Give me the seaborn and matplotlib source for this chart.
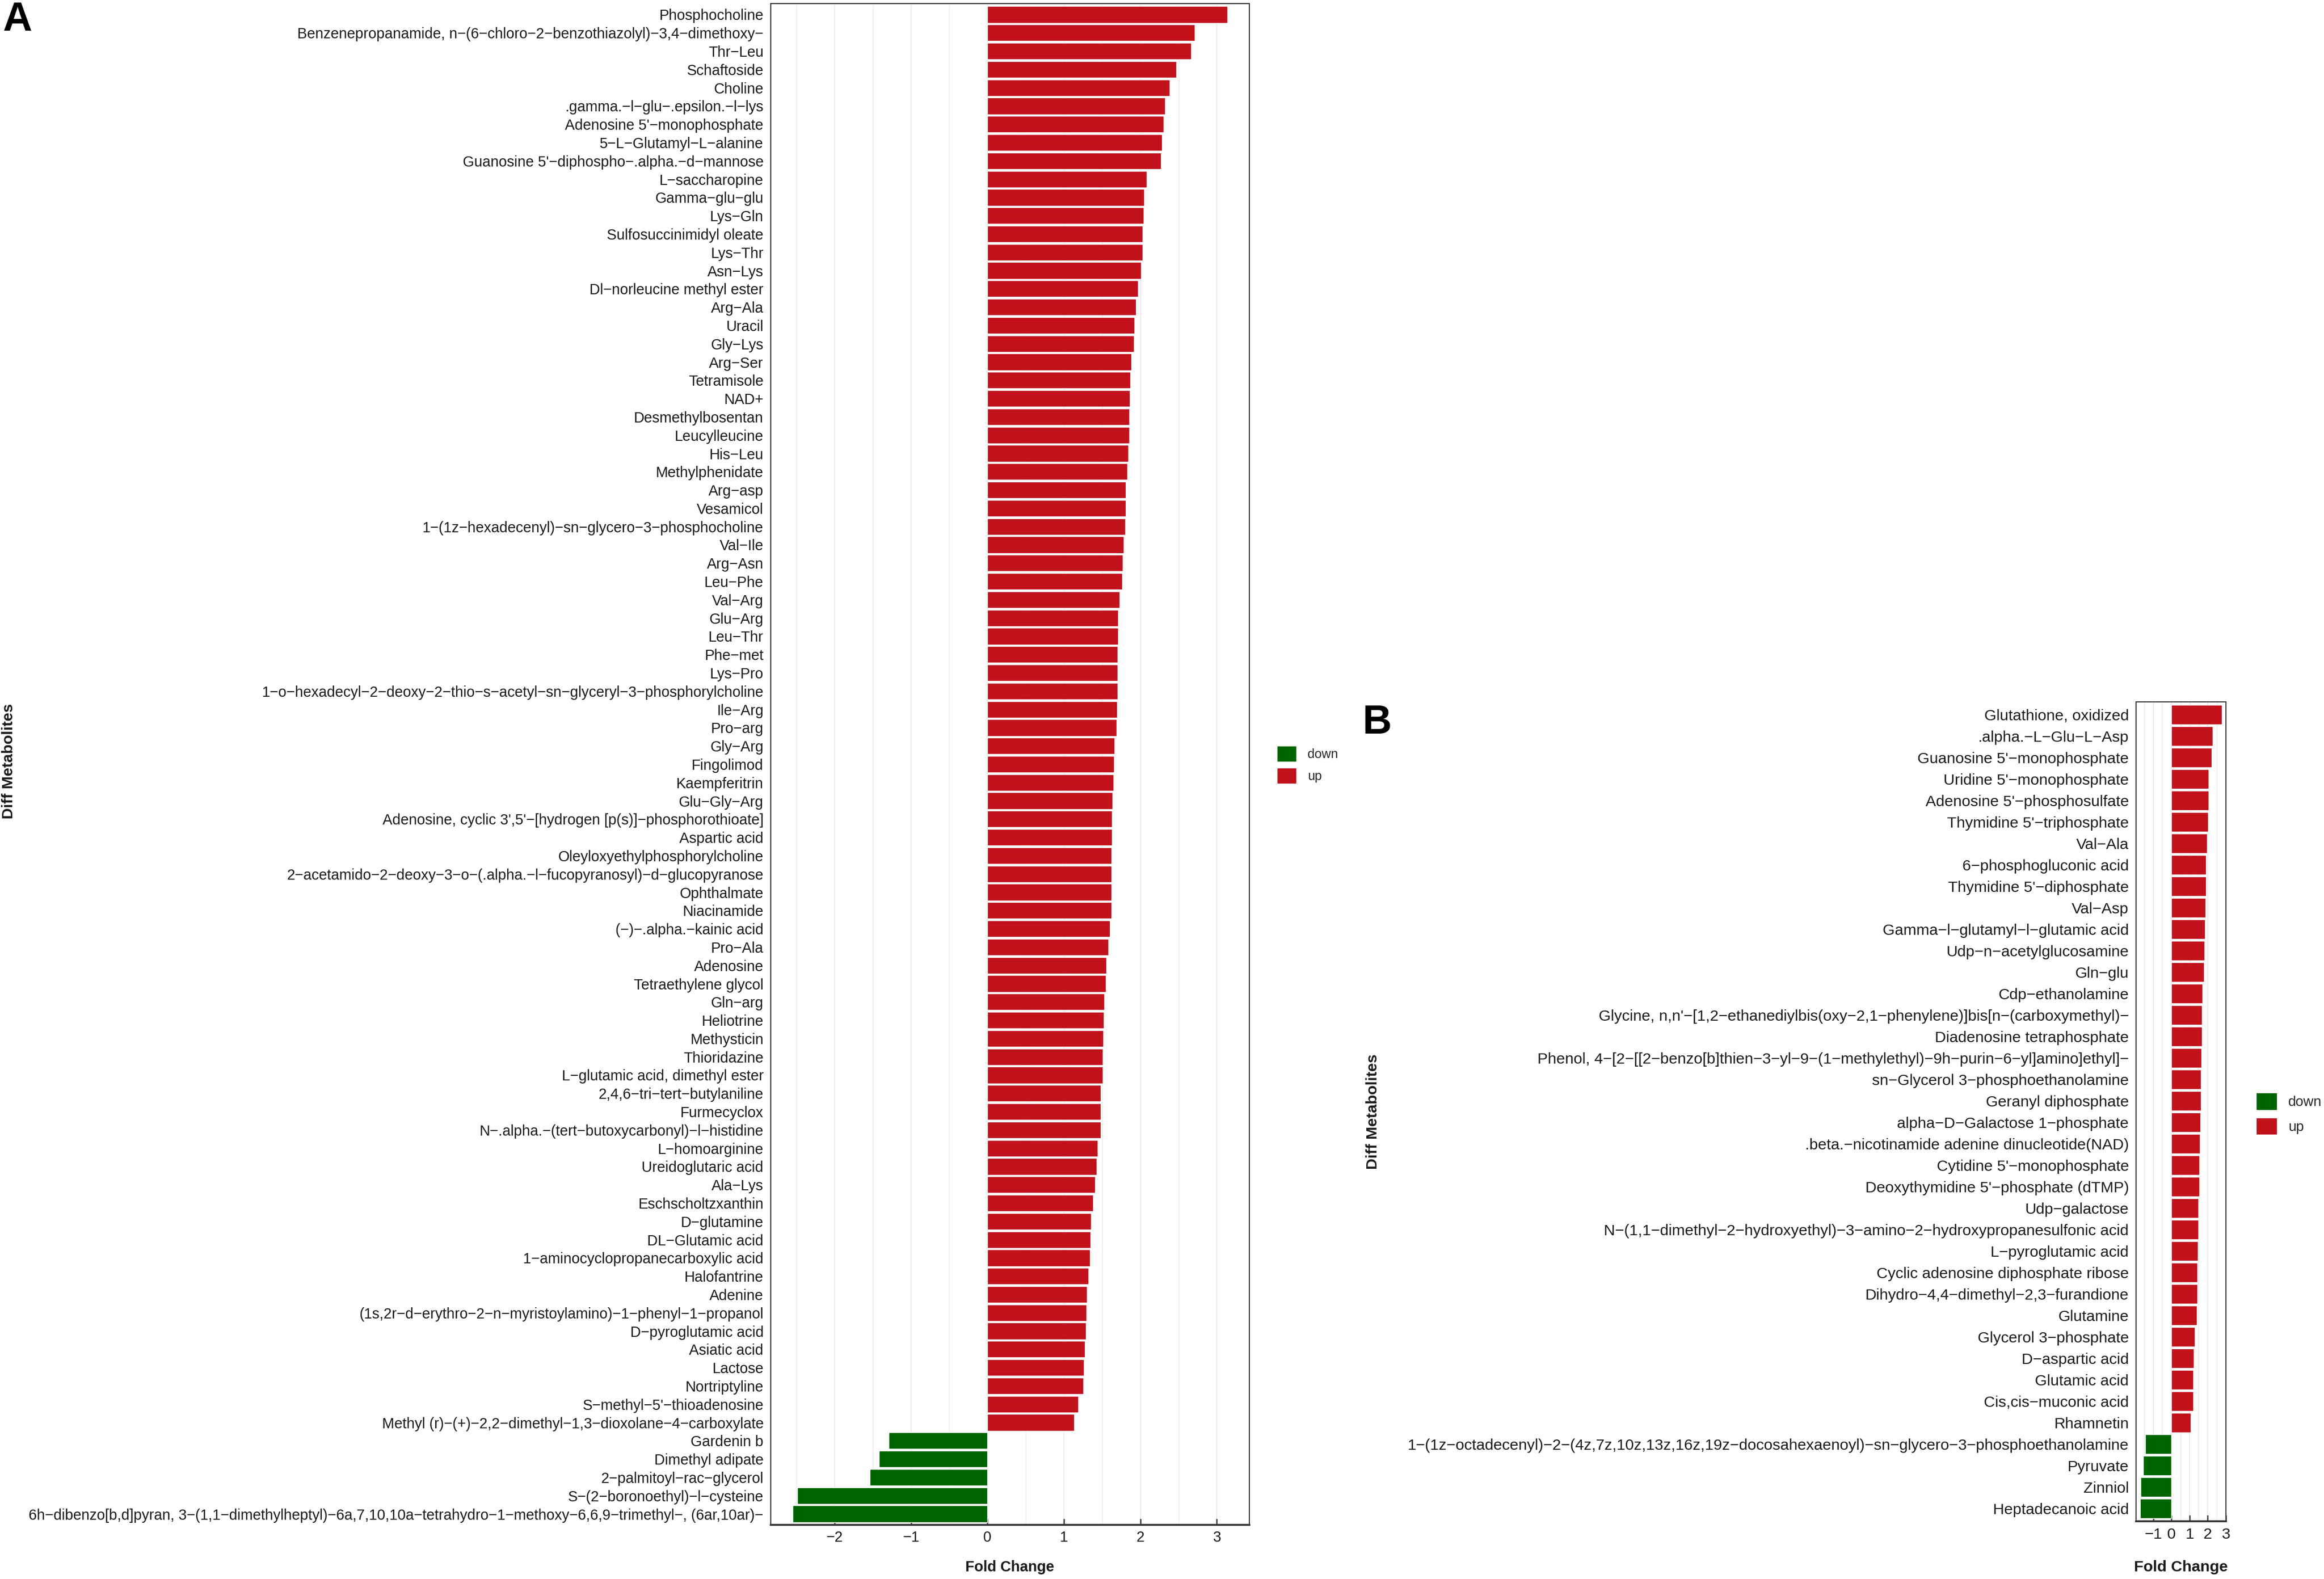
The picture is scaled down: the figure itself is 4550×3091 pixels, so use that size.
import numpy as np
import pandas as pd
import matplotlib
matplotlib.use('Agg')
import matplotlib.pyplot as plt
from matplotlib.ticker import MultipleLocator
import seaborn as sns

# Panel A: differential metabolites (top to bottom)
a_names = [
    "Phosphocholine",
    "Benzenepropanamide, n−(6−chloro−2−benzothiazolyl)−3,4−dimethoxy−",
    "Thr−Leu",
    "Schaftoside",
    "Choline",
    ".gamma.−l−glu−.epsilon.−l−lys",
    "Adenosine 5'−monophosphate",
    "5−L−Glutamyl−L−alanine",
    "Guanosine 5'−diphospho−.alpha.−d−mannose",
    "L−saccharopine",
    "Gamma−glu−glu",
    "Lys−Gln",
    "Sulfosuccinimidyl oleate",
    "Lys−Thr",
    "Asn−Lys",
    "Dl−norleucine methyl ester",
    "Arg−Ala",
    "Uracil",
    "Gly−Lys",
    "Arg−Ser",
    "Tetramisole",
    "NAD+",
    "Desmethylbosentan",
    "Leucylleucine",
    "His−Leu",
    "Methylphenidate",
    "Arg−asp",
    "Vesamicol",
    "1−(1z−hexadecenyl)−sn−glycero−3−phosphocholine",
    "Val−Ile",
    "Arg−Asn",
    "Leu−Phe",
    "Val−Arg",
    "Glu−Arg",
    "Leu−Thr",
    "Phe−met",
    "Lys−Pro",
    "1−o−hexadecyl−2−deoxy−2−thio−s−acetyl−sn−glyceryl−3−phosphorylcholine",
    "Ile−Arg",
    "Pro−arg",
    "Gly−Arg",
    "Fingolimod",
    "Kaempferitrin",
    "Glu−Gly−Arg",
    "Adenosine, cyclic 3',5'−[hydrogen [p(s)]−phosphorothioate]",
    "Aspartic acid",
    "Oleyloxyethylphosphorylcholine",
    "2−acetamido−2−deoxy−3−o−(.alpha.−l−fucopyranosyl)−d−glucopyranose",
    "Ophthalmate",
    "Niacinamide",
    "(−)−.alpha.−kainic acid",
    "Pro−Ala",
    "Adenosine",
    "Tetraethylene glycol",
    "Gln−arg",
    "Heliotrine",
    "Methysticin",
    "Thioridazine",
    "L−glutamic acid, dimethyl ester",
    "2,4,6−tri−tert−butylaniline",
    "Furmecyclox",
    "N−.alpha.−(tert−butoxycarbonyl)−l−histidine",
    "L−homoarginine",
    "Ureidoglutaric acid",
    "Ala−Lys",
    "Eschscholtzxanthin",
    "D−glutamine",
    "DL−Glutamic acid",
    "1−aminocyclopropanecarboxylic acid",
    "Halofantrine",
    "Adenine",
    "(1s,2r−d−erythro−2−n−myristoylamino)−1−phenyl−1−propanol",
    "D−pyroglutamic acid",
    "Asiatic acid",
    "Lactose",
    "Nortriptyline",
    "S−methyl−5'−thioadenosine",
    "Methyl (r)−(+)−2,2−dimethyl−1,3−dioxolane−4−carboxylate",
    "Gardenin b",
    "Dimethyl adipate",
    "2−palmitoyl−rac−glycerol",
    "S−(2−boronoethyl)−l−cysteine",
    "6h−dibenzo[b,d]pyran, 3−(1,1−dimethylheptyl)−6a,7,10,10a−tetrahydro−1−methoxy−6,6,9−trimethyl−, (6ar,10ar)−",
]
a_fc = [
    3.14, 2.71, 2.66, 2.47, 2.38, 2.32, 2.30, 2.28, 2.27, 2.08,
    2.05, 2.04, 2.03, 2.03, 2.01, 1.97, 1.94, 1.92, 1.915, 1.88,
    1.865, 1.86, 1.855, 1.853, 1.84, 1.827, 1.81, 1.81, 1.804, 1.78,
    1.767, 1.762, 1.731, 1.709, 1.707, 1.704, 1.702, 1.698, 1.693, 1.687,
    1.66, 1.656, 1.645, 1.636, 1.629, 1.628, 1.624, 1.623, 1.622, 1.618,
    1.60, 1.58, 1.551, 1.549, 1.527, 1.518, 1.513, 1.51, 1.507, 1.482,
    1.481, 1.48, 1.442, 1.424, 1.407, 1.38, 1.356, 1.349, 1.34, 1.32,
    1.30, 1.293, 1.284, 1.276, 1.26, 1.256, 1.187, 1.133,
    -1.29, -1.42, -1.54, -2.49, -2.55,
]

# Panel B
b_names = [
    "Glutathione, oxidized",
    ".alpha.−L−Glu−L−Asp",
    "Guanosine 5'−monophosphate",
    "Uridine 5'−monophosphate",
    "Adenosine 5'−phosphosulfate",
    "Thymidine 5'−triphosphate",
    "Val−Ala",
    "6−phosphogluconic acid",
    "Thymidine 5'−diphosphate",
    "Val−Asp",
    "Gamma−l−glutamyl−l−glutamic acid",
    "Udp−n−acetylglucosamine",
    "Gln−glu",
    "Cdp−ethanolamine",
    "Glycine, n,n'−[1,2−ethanediylbis(oxy−2,1−phenylene)]bis[n−(carboxymethyl)−",
    "Diadenosine tetraphosphate",
    "Phenol, 4−[2−[[2−benzo[b]thien−3−yl−9−(1−methylethyl)−9h−purin−6−yl]amino]ethyl]−",
    "sn−Glycerol 3−phosphoethanolamine",
    "Geranyl diphosphate",
    "alpha−D−Galactose 1−phosphate",
    ".beta.−nicotinamide adenine dinucleotide(NAD)",
    "Cytidine 5'−monophosphate",
    "Deoxythymidine 5'−phosphate (dTMP)",
    "Udp−galactose",
    "N−(1,1−dimethyl−2−hydroxyethyl)−3−amino−2−hydroxypropanesulfonic acid",
    "L−pyroglutamic acid",
    "Cyclic adenosine diphosphate ribose",
    "Dihydro−4,4−dimethyl−2,3−furandione",
    "Glutamine",
    "Glycerol 3−phosphate",
    "D−aspartic acid",
    "Glutamic acid",
    "Cis,cis−muconic acid",
    "Rhamnetin",
    "1−(1z−octadecenyl)−2−(4z,7z,10z,13z,16z,19z−docosahexaenoyl)−sn−glycero−3−phosphoethanolamine",
    "Pyruvate",
    "Zinniol",
    "Heptadecanoic acid",
]
b_fc = [
    2.78, 2.27, 2.21, 2.06, 2.05, 2.01, 1.96, 1.92, 1.91, 1.87,
    1.84, 1.82, 1.80, 1.72, 1.69, 1.67, 1.66, 1.64, 1.62, 1.60,
    1.58, 1.55, 1.54, 1.50, 1.49, 1.46, 1.44, 1.42, 1.40, 1.30,
    1.24, 1.20, 1.195, 1.06,
    -1.45, -1.55, -1.69, -1.72,
]

RED = '#C1121C'
GREEN = '#006400'
GRID = '#EBEBEB'
FRAME = '#333333'
TXT = '#1a1a1a'

sns.set_theme(style='white')
plt.rcParams['font.family'] = ['Liberation Sans', 'DejaVu Sans']
plt.rcParams['axes.unicode_minus'] = True

W, H, DPI = 4550, 3091, 300
fig = plt.figure(figsize=(W / DPI, H / DPI), dpi=DPI)


def box(x0, y0, x1, y1):
    # pixel box (top-left origin) -> figure fraction rect
    return [x0 / W, 1 - y1 / H, (x1 - x0) / W, (y1 - y0) / H]


def draw_panel(ax, names, fc, tick_fs):
    df = pd.DataFrame({'metabolite': names, 'fc': fc})
    df['dir'] = np.where(df['fc'] < 0, 'down', 'up')
    sns.barplot(data=df, x='fc', y='metabolite', hue='dir',
                hue_order=['down', 'up'], palette={'down': GREEN, 'up': RED},
                saturation=1, dodge=False, width=0.9, errorbar=None,
                orient='h', edgecolor='white', linewidth=0.3, ax=ax)
    leg = ax.get_legend()
    handles = leg.legend_handles
    labels = [t.get_text() for t in leg.get_texts()]
    leg.remove()

    lo, hi = min(fc), max(fc)
    pad = 0.05 * (hi - lo)
    ax.set_xlim(lo - pad, hi + pad)
    n = len(names)
    ax.set_ylim(n - 0.4, -0.6)

    ax.xaxis.set_major_locator(MultipleLocator(1))
    ax.xaxis.set_minor_locator(MultipleLocator(0.5))
    ax.grid(axis='x', which='major', color=GRID, lw=0.5)
    ax.grid(axis='x', which='minor', color=GRID, lw=0.35)
    ax.grid(axis='y', visible=False)
    ax.set_axisbelow(True)

    for side in ['top', 'right', 'left']:
        ax.spines[side].set_color(FRAME)
        ax.spines[side].set_linewidth(0.5)
    ax.spines['bottom'].set_color(FRAME)
    ax.spines['bottom'].set_linewidth(0.9)

    ax.tick_params(axis='x', which='major', direction='in', length=2.9,
                   width=0.6, color=FRAME, pad=2.6, labelsize=tick_fs,
                   labelcolor=TXT, bottom=True)
    ax.tick_params(axis='x', which='minor', length=0)
    ax.tick_params(axis='y', length=0, pad=3.4, labelsize=tick_fs,
                   labelcolor=TXT)
    ax.set_xlabel('')
    ax.set_ylabel('')
    return handles, labels


# Panel A
ax_a = fig.add_axes(box(1509, 7, 2446, 2985))
h_a, l_a = draw_panel(ax_a, a_names, a_fc, 6.9)
ax_a.legend(h_a, l_a, loc='upper left', bbox_to_anchor=(2500 / W, 1 - 1460 / H),
            bbox_transform=fig.transFigure, frameon=False, fontsize=6,
            handlelength=1.5, handleheight=1.5, handletextpad=0.9,
            labelspacing=0.5, borderpad=0, borderaxespad=0)
fig.text(1977 / W, 1 - 3068 / H, 'Fold Change', ha='center', va='center',
         fontsize=6.9, fontweight='bold', color=TXT)
fig.text(17 / W, 1 - 1490 / H, 'Diff Metabolites', ha='center', va='center',
         rotation=90, fontsize=7.3, fontweight='bold', color=TXT)
fig.text(5 / W, 1 - 2 / H, 'A', ha='left', va='top', fontsize=19,
         fontweight='bold', color='black')

# Panel B
ax_b = fig.add_axes(box(4182, 1374, 4358, 2978))
h_b, l_b = draw_panel(ax_b, b_names, b_fc, 7.3)
ax_b.tick_params(axis='x', which='major', pad=3.0)
ax_b.legend(h_b, l_b, loc='upper left', bbox_to_anchor=(4417 / W, 1 - 2139 / H),
            bbox_transform=fig.transFigure, frameon=False, fontsize=6.6,
            handlelength=1.5, handleheight=1.5, handletextpad=0.8,
            labelspacing=0.55, borderpad=0, borderaxespad=0)
fig.text(4270 / W, 1 - 3068 / H, 'Fold Change', ha='center', va='center',
         fontsize=7.3, fontweight='bold', color=TXT)
fig.text(2688 / W, 1 - 2176 / H, 'Diff Metabolites', ha='center', va='center',
         rotation=90, fontsize=7.3, fontweight='bold', color=TXT)
fig.text(2668 / W, 1 - 1378 / H, 'B', ha='left', va='top', fontsize=19,
         fontweight='bold', color='black')

fig.savefig('out.png', dpi=DPI)
